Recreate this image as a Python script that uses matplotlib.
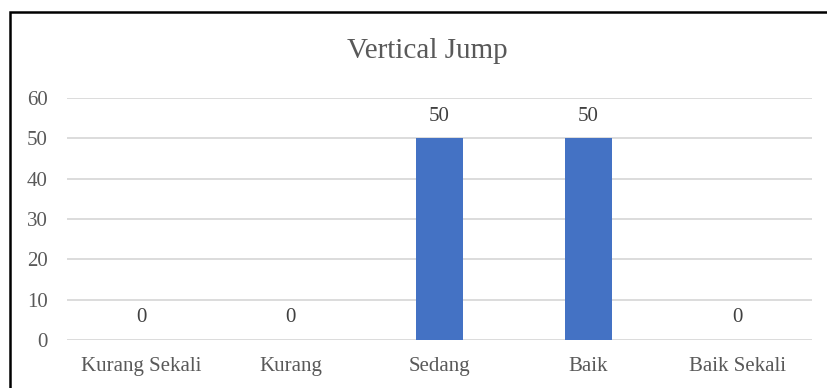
import matplotlib
matplotlib.use("Agg")
import matplotlib.pyplot as plt
from matplotlib.patches import Rectangle

categories = ["Kurang Sekali", "Kurang", "Sedang", "Baik", "Baik Sekali"]
values = [0, 0, 50, 50, 0]
yticks = [0, 10, 20, 30, 40, 50, 60]
title = "Vertical Jump"

plt.rcParams['font.family'] = ['Liberation Serif', 'DejaVu Serif']

W, H = 828, 388
fig = plt.figure(figsize=(W/100, H/100), dpi=100)
ax = fig.add_axes([67/W, (H-340)/H, (812-67)/W, (340-98)/H])

x = list(range(len(categories)))
bars = ax.bar(x, values, width=0.315, color="#4472C4", zorder=3)
ax.set_xlim(-0.5, len(categories)-0.5)
ax.set_ylim(0, 60)
ax.set_yticks(yticks)
ax.set_xticks(x)
ax.set_xticklabels(categories)
ax.grid(axis='y', color='#d9d9d9', linewidth=1.3, zorder=0)
ax.set_axisbelow(True)
for s in ax.spines.values():
    s.set_visible(False)
ax.tick_params(axis='both', length=0, colors='#595959', labelsize=15)
ax.tick_params(axis='y', pad=14)
ax.tick_params(axis='x', pad=12)

for xi, v in zip(x, values):
    ax.annotate(str(v), (xi, v), xytext=(0, 9), textcoords='offset points',
                ha='center', va='bottom', fontsize=15, color='#404040')

fig.text(427/W, 1-51/H, title, ha='center', va='center', fontsize=21, color='#595959')

fig.patches.append(Rectangle((10/W, -0.1), 1.2, 1.1-12/H + 0.0, transform=fig.transFigure,
                             fill=False, edgecolor='black', linewidth=1.8))

fig.savefig("out.png", dpi=100)
